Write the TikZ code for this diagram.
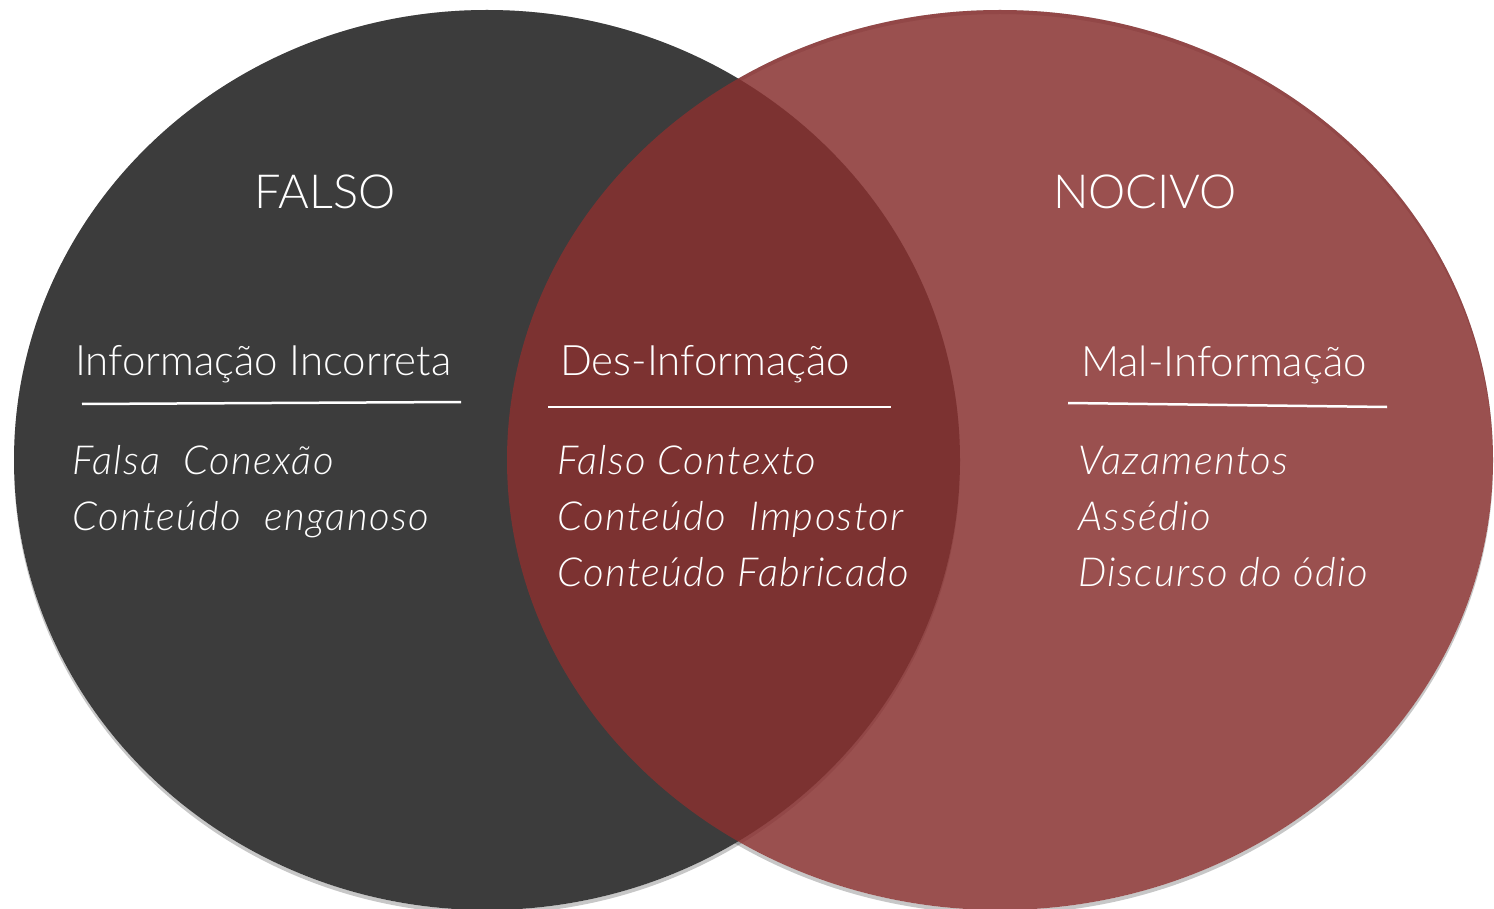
\documentclass[tikz,border=0pt]{standalone}
\usepackage{fontspec}
\setmainfont{Lato}[UprightFont=* Light, ItalicFont=* Light Italic]
\newfontfamily\itemfont{Lato}[UprightFont=* Light Italic, LetterSpace=3.5]
\definecolor{falsogray}{RGB}{60,60,60}
\definecolor{nocivored}{RGB}{136,49,48}
\begin{document}
\begin{tikzpicture}[x=1pt,y=-1pt,
  titulo/.style={text=white,font=\fontsize{47}{50}\selectfont,anchor=base,inner sep=0},
  cabeca/.style={text=white,font=\fontsize{42}{46}\selectfont,anchor=base west,inner sep=0},
  item/.style={text=white,font=\fontsize{40}{44}\itemfont,anchor=base west,inner sep=0},
  regua/.style={white,line width=2.5pt},
  sombra/.style={black,opacity=0.22,even odd rule}]
\useasboundingbox (0,0) rectangle (1494,909);
% sombras
\fill[sombra] (487,464) ellipse [x radius=473,y radius=450] (487,460) ellipse [x radius=473,y radius=450];
\fill[sombra] (1000,464) ellipse [x radius=493,y radius=450] (1000,460) ellipse [x radius=493,y radius=450];
% conjuntos
\fill[falsogray] (487,460) ellipse [x radius=473,y radius=450];
\fill[nocivored,opacity=0.85] (1000,460) ellipse [x radius=493,y radius=450];
% titulos
\node[titulo] (falso) at (325,209) {FALSO};
\node[titulo] (nocivo) at (1145,209) {NOCIVO};
% cabecalhos
\node[cabeca] (incorreta) at (75,375) {Informação Incorreta};
\node[cabeca] (desinfo) at (560,375) {Des-Informação};
\node[cabeca] (malinfo) at (1081,376) {Mal-Informação};
\draw[regua] (82,404) -- (461,402);
\draw[regua] (548,407) -- (891,407);
\draw[regua] (1068,403) -- (1387,407);
% itens
\node[item] (conexao) at (72,474) {Falsa\ \ Conexão};
\node[item] (enganoso) at (72,530) {Conteúdo\ \ enganoso};
\node[item] (contexto) at (557,474) {Falso Contexto};
\node[item] (impostor) at (557,530) {Conteúdo\ \ Impostor};
\node[item] (fabricado) at (557,586) {Conteúdo Fabricado};
\node[item] (vazamentos) at (1078,474) {Vazamentos};
\node[item] (assedio) at (1078,530) {Assédio};
\node[item] (discurso) at (1078,586) {Discurso do ódio};
\end{tikzpicture}
\end{document}
